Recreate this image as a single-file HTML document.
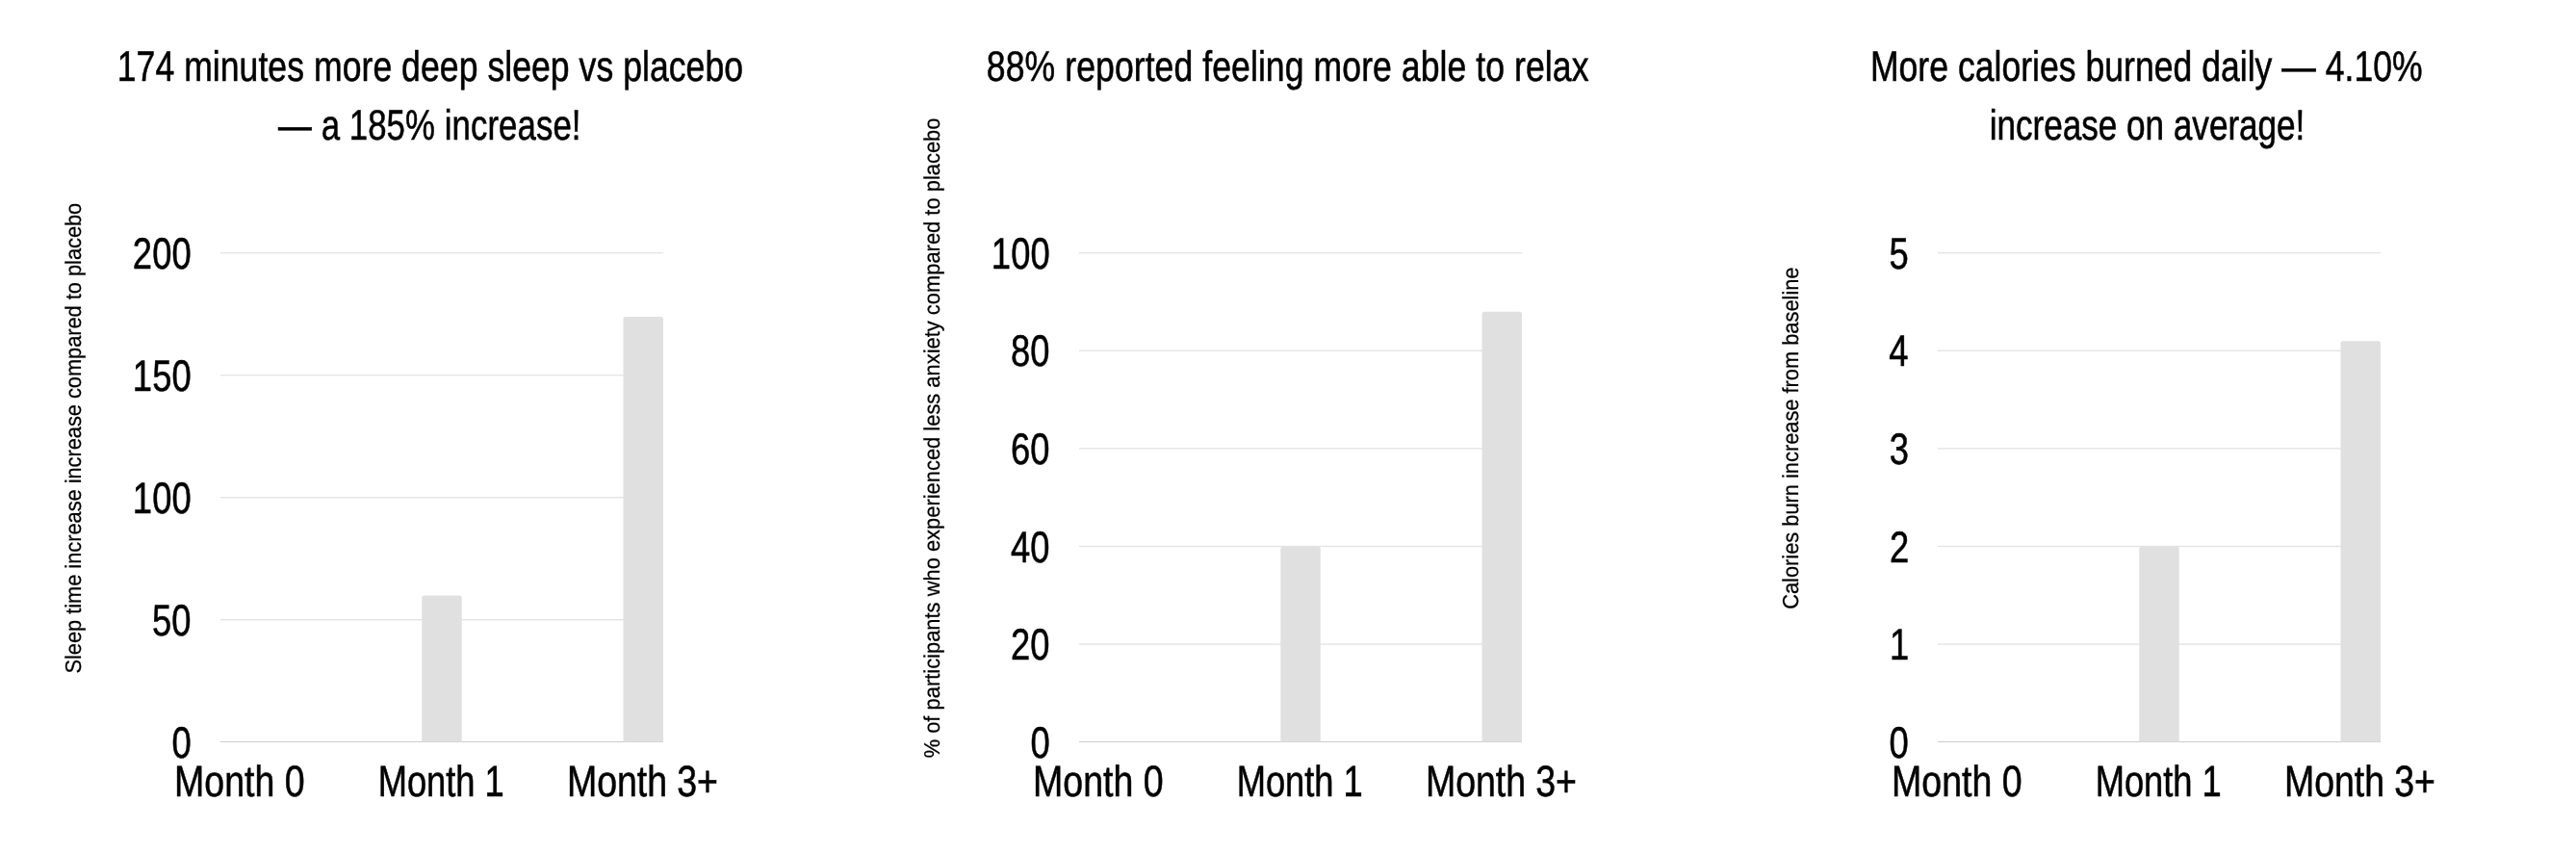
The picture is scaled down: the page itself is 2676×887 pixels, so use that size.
<!DOCTYPE html><html><head><meta charset="utf-8"><style>html,body{margin:0;padding:0;background:#fff;overflow:hidden}svg{display:block;will-change:transform;text-rendering:geometricPrecision}text{font-family:"Liberation Sans",sans-serif;fill:#000}</style></head><body>
<svg width="2676" height="887" viewBox="0 0 2676 887">
<rect x="0" y="0" width="2676" height="887" fill="#fff"/>
<text transform="translate(121.73,84.00) scale(0.08917,0.11000)" font-size="400" stroke="#000" stroke-width="5.05">174 minutes more deep sleep vs placebo</text>
<text transform="translate(289.00,145.00) scale(0.08732,0.11000)" font-size="400" stroke="#000" stroke-width="5.15">— a 185% increase!</text>
<text transform="translate(1024.79,84.00) scale(0.08934,0.11000)" font-size="400" stroke="#000" stroke-width="5.04">88% reported feeling more able to relax</text>
<text transform="translate(1942.90,84.00) scale(0.08900,0.11000)" font-size="400" stroke="#000" stroke-width="5.06">More calories burned daily — 4.10%</text>
<text transform="translate(2066.72,145.00) scale(0.08770,0.11000)" font-size="400" stroke="#000" stroke-width="5.13">increase on average!</text>
<rect x="229" y="770.00" width="460" height="1.0" fill="#cccccc"/>
<rect x="229" y="643.00" width="460" height="1.4" fill="#e4e4e4"/>
<rect x="229" y="516.00" width="460" height="1.4" fill="#e4e4e4"/>
<rect x="229" y="389.00" width="460" height="1.4" fill="#e4e4e4"/>
<rect x="229" y="262.00" width="460" height="1.4" fill="#e4e4e4"/>
<path d="M438.25,770.5 V621.00 Q438.25,618.50 440.75,618.50 H477.25 Q479.75,618.50 479.75,621.00 V770.5 Z" fill="#e0e0e0"/>
<path d="M647.50,770.5 V331.44 Q647.50,328.94 650.00,328.94 H686.50 Q689.00,328.94 689.00,331.44 V770.5 Z" fill="#e0e0e0"/>
<text transform="translate(178.51,787.00) scale(0.09120,0.11400)" font-size="400" stroke="#000" stroke-width="4.93">0</text>
<text transform="translate(158.08,660.00) scale(0.09120,0.11400)" font-size="400" stroke="#000" stroke-width="4.93">50</text>
<text transform="translate(137.84,533.00) scale(0.09120,0.11400)" font-size="400" stroke="#000" stroke-width="4.93">100</text>
<text transform="translate(137.84,406.00) scale(0.09120,0.11400)" font-size="400" stroke="#000" stroke-width="4.93">150</text>
<text transform="translate(137.84,279.00) scale(0.09120,0.11400)" font-size="400" stroke="#000" stroke-width="4.93">200</text>
<text transform="translate(181.00,826.90) scale(0.09385,0.11375)" font-size="400" stroke="#000" stroke-width="4.79">Month 0</text>
<text transform="translate(392.70,826.90) scale(0.09067,0.11375)" font-size="400" stroke="#000" stroke-width="4.96">Month 1</text>
<text transform="translate(589.11,826.90) scale(0.09337,0.11375)" font-size="400" stroke="#000" stroke-width="4.82">Month 3+</text>
<text transform="translate(84.00,699.48) rotate(-90) scale(0.05440,0.05750)" font-size="400" stroke="#000" stroke-width="4.04">Sleep time increase increase compared to placebo</text>
<rect x="1121" y="770.00" width="460" height="1.0" fill="#cccccc"/>
<rect x="1121" y="668.40" width="460" height="1.4" fill="#e4e4e4"/>
<rect x="1121" y="566.80" width="460" height="1.4" fill="#e4e4e4"/>
<rect x="1121" y="465.20" width="460" height="1.4" fill="#e4e4e4"/>
<rect x="1121" y="363.60" width="460" height="1.4" fill="#e4e4e4"/>
<rect x="1121" y="262.00" width="460" height="1.4" fill="#e4e4e4"/>
<path d="M1330.25,770.5 V570.20 Q1330.25,567.70 1332.75,567.70 H1369.25 Q1371.75,567.70 1371.75,570.20 V770.5 Z" fill="#e0e0e0"/>
<path d="M1539.50,770.5 V326.36 Q1539.50,323.86 1542.00,323.86 H1578.50 Q1581.00,323.86 1581.00,326.36 V770.5 Z" fill="#e0e0e0"/>
<text transform="translate(1070.51,787.00) scale(0.09120,0.11400)" font-size="400" stroke="#000" stroke-width="4.93">0</text>
<text transform="translate(1050.08,685.00) scale(0.09120,0.11400)" font-size="400" stroke="#000" stroke-width="4.93">20</text>
<text transform="translate(1050.08,584.00) scale(0.09120,0.11400)" font-size="400" stroke="#000" stroke-width="4.93">40</text>
<text transform="translate(1050.08,482.00) scale(0.09120,0.11400)" font-size="400" stroke="#000" stroke-width="4.93">60</text>
<text transform="translate(1050.08,380.00) scale(0.09120,0.11400)" font-size="400" stroke="#000" stroke-width="4.93">80</text>
<text transform="translate(1029.84,279.00) scale(0.09120,0.11400)" font-size="400" stroke="#000" stroke-width="4.93">100</text>
<text transform="translate(1073.00,826.90) scale(0.09385,0.11375)" font-size="400" stroke="#000" stroke-width="4.79">Month 0</text>
<text transform="translate(1284.70,826.90) scale(0.09067,0.11375)" font-size="400" stroke="#000" stroke-width="4.96">Month 1</text>
<text transform="translate(1481.11,826.90) scale(0.09337,0.11375)" font-size="400" stroke="#000" stroke-width="4.82">Month 3+</text>
<text transform="translate(976.00,787.37) rotate(-90) scale(0.05476,0.05750)" font-size="400" stroke="#000" stroke-width="4.02">% of participants who experienced less anxiety compared to placebo</text>
<rect x="2013" y="770.00" width="460" height="1.0" fill="#cccccc"/>
<rect x="2013" y="668.40" width="460" height="1.4" fill="#e4e4e4"/>
<rect x="2013" y="566.80" width="460" height="1.4" fill="#e4e4e4"/>
<rect x="2013" y="465.20" width="460" height="1.4" fill="#e4e4e4"/>
<rect x="2013" y="363.60" width="460" height="1.4" fill="#e4e4e4"/>
<rect x="2013" y="262.00" width="460" height="1.4" fill="#e4e4e4"/>
<path d="M2222.25,770.5 V570.20 Q2222.25,567.70 2224.75,567.70 H2261.25 Q2263.75,567.70 2263.75,570.20 V770.5 Z" fill="#e0e0e0"/>
<path d="M2431.50,770.5 V356.84 Q2431.50,354.34 2434.00,354.34 H2470.50 Q2473.00,354.34 2473.00,356.84 V770.5 Z" fill="#e0e0e0"/>
<text transform="translate(1962.51,787.00) scale(0.09120,0.11400)" font-size="400" stroke="#000" stroke-width="4.93">0</text>
<text transform="translate(1962.88,685.00) scale(0.09120,0.11400)" font-size="400" stroke="#000" stroke-width="4.93">1</text>
<text transform="translate(1962.88,584.00) scale(0.09120,0.11400)" font-size="400" stroke="#000" stroke-width="4.93">2</text>
<text transform="translate(1962.70,482.00) scale(0.09120,0.11400)" font-size="400" stroke="#000" stroke-width="4.93">3</text>
<text transform="translate(1962.15,380.00) scale(0.09120,0.11400)" font-size="400" stroke="#000" stroke-width="4.93">4</text>
<text transform="translate(1962.51,279.00) scale(0.09120,0.11400)" font-size="400" stroke="#000" stroke-width="4.93">5</text>
<text transform="translate(1965.00,826.90) scale(0.09385,0.11375)" font-size="400" stroke="#000" stroke-width="4.79">Month 0</text>
<text transform="translate(2176.70,826.90) scale(0.09067,0.11375)" font-size="400" stroke="#000" stroke-width="4.96">Month 1</text>
<text transform="translate(2373.11,826.90) scale(0.09337,0.11375)" font-size="400" stroke="#000" stroke-width="4.82">Month 3+</text>
<text transform="translate(1868.00,632.79) rotate(-90) scale(0.05454,0.05750)" font-size="400" stroke="#000" stroke-width="4.03">Calories burn increase from baseline</text>
</svg></body></html>
